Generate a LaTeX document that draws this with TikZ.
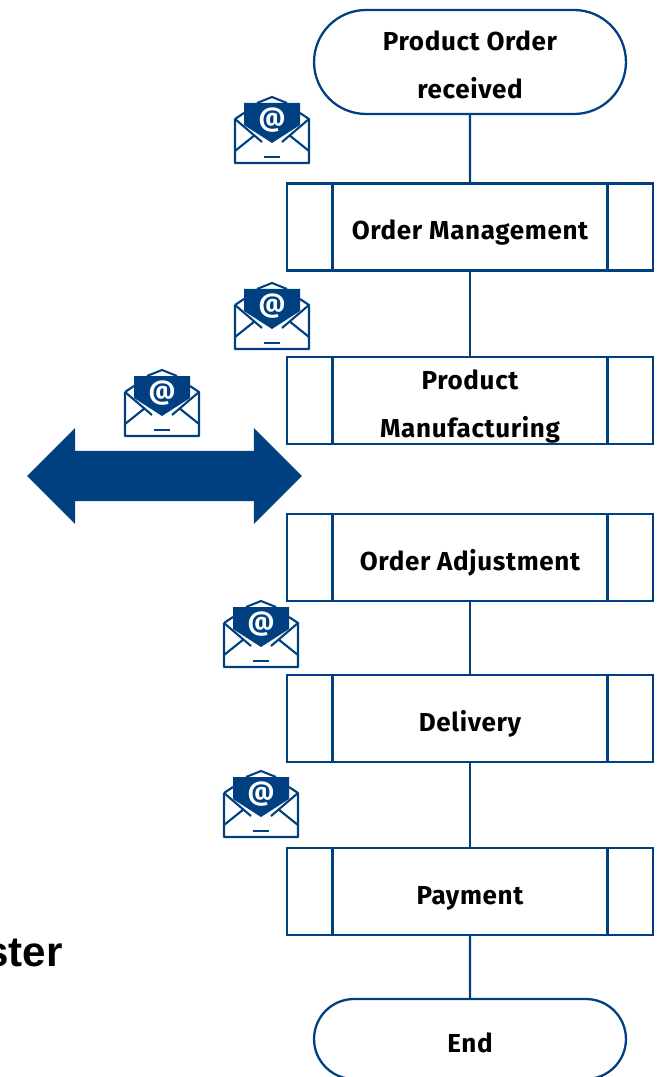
\documentclass[tikz,border=0pt]{standalone}
\usepackage{fontspec}
\setmainfont[LetterSpace=2.5]{Fira Sans}
\newfontfamily\arialfont{Liberation Sans}
\usetikzlibrary{shapes,arrows,positioning,calc}
\definecolor{flowblue}{HTML}{004080}

\begin{document}
\begin{tikzpicture}[
    x=0.02cm, y=-0.02cm,
    line width=1.3pt,
    process/.style={rectangle, draw=flowblue, fill=white, minimum width=7.32cm, minimum height=1.74cm, font=\fontsize{14.8}{27.3}\bfseries, align=center, inner sep=0pt, text height=14.8pt, text depth=0pt},
    terminal/.style={rounded rectangle, draw=flowblue, fill=white, minimum width=6.24cm, minimum height=2.08cm, font=\fontsize{14.8}{27.3}\bfseries, align=center, inner sep=0pt, text height=14.8pt, text depth=0pt},
    twolines/.style={text height=42pt},
    link/.style={draw=flowblue},
    exchange/.style={double arrow, fill=flowblue, minimum width=1.87cm, minimum height=5.5cm, double arrow head extend=0.46cm, double arrow tip angle=90, inner xsep=0pt, inner ysep=0.48cm},
    envelope/.pic={
        \draw[flowblue, line width=1.2pt, line join=round] (-37,-11) -- (-28,-17) (28,-17) -- (37,-11) -- (37,33) -- (-37,33) -- (-37,-11);
        \draw[flowblue, line width=1.2pt] (-37,-11) -- (-10,12) (37,-11) -- (10,12) (-37,21) -- (-17,5) (37,21) -- (17,5) (-15,-27) -- (0,-33) -- (15,-27);
        \fill[flowblue] (-28,-27) -- (28,-27) -- (28,-5) -- (0,13) -- (-28,-5) -- cycle;
        \draw[flowblue, line width=1.2pt] (-8,27) -- (8,27);
        \node[white, font=\fontsize{15}{15}\bfseries] (at) at (0,-10) {@};
    }
]

\clip (0,0) rectangle (658,1077);

% Start and end
\node[terminal, twolines] (start) at (470,62) {Product Order\\received};
\node[terminal, minimum height=1.6cm] (end) at (470,1039) {End};

% Process steps
\node[process] (management) at (470,227) {Order Management};
\node[process, twolines] (manufacturing) at (470,400.5) {Product\\Manufacturing};
\node[process] (adjustment) at (470,557.5) {Order Adjustment};
\node[process] (delivery) at (470,718.5) {Delivery};
\node[process] (payment) at (470,891.5) {Payment};

% Side bars of the steps
\foreach \step in {management,manufacturing,adjustment,delivery,payment} {
    \draw[link] ([xshift=0.93cm]\step.north west) -- ([xshift=0.93cm]\step.south west);
    \draw[link] ([xshift=-0.93cm]\step.north east) -- ([xshift=-0.93cm]\step.south east);
}

% Connections
\draw[link] (start) -- (management);
\draw[link] (management) -- (manufacturing);
\draw[link] (adjustment) -- (delivery);
\draw[link] (delivery) -- (payment);
\draw[link] (payment) -- (end);

% Exchange arrow
\node[exchange] (exchange) at (164.5,476) {};

% Mail icons
\pic at (272,130) {envelope};
\pic at (272,316) {envelope};
\pic at (162,403) {envelope};
\pic at (261,634) {envelope};
\pic at (261,804) {envelope};

% Cut off caption
\node[anchor=base east, font=\arialfont\fontsize{24}{26}\bfseries, inner sep=0pt] (caption) at (64,966) {ster};

\end{tikzpicture}
\end{document}
